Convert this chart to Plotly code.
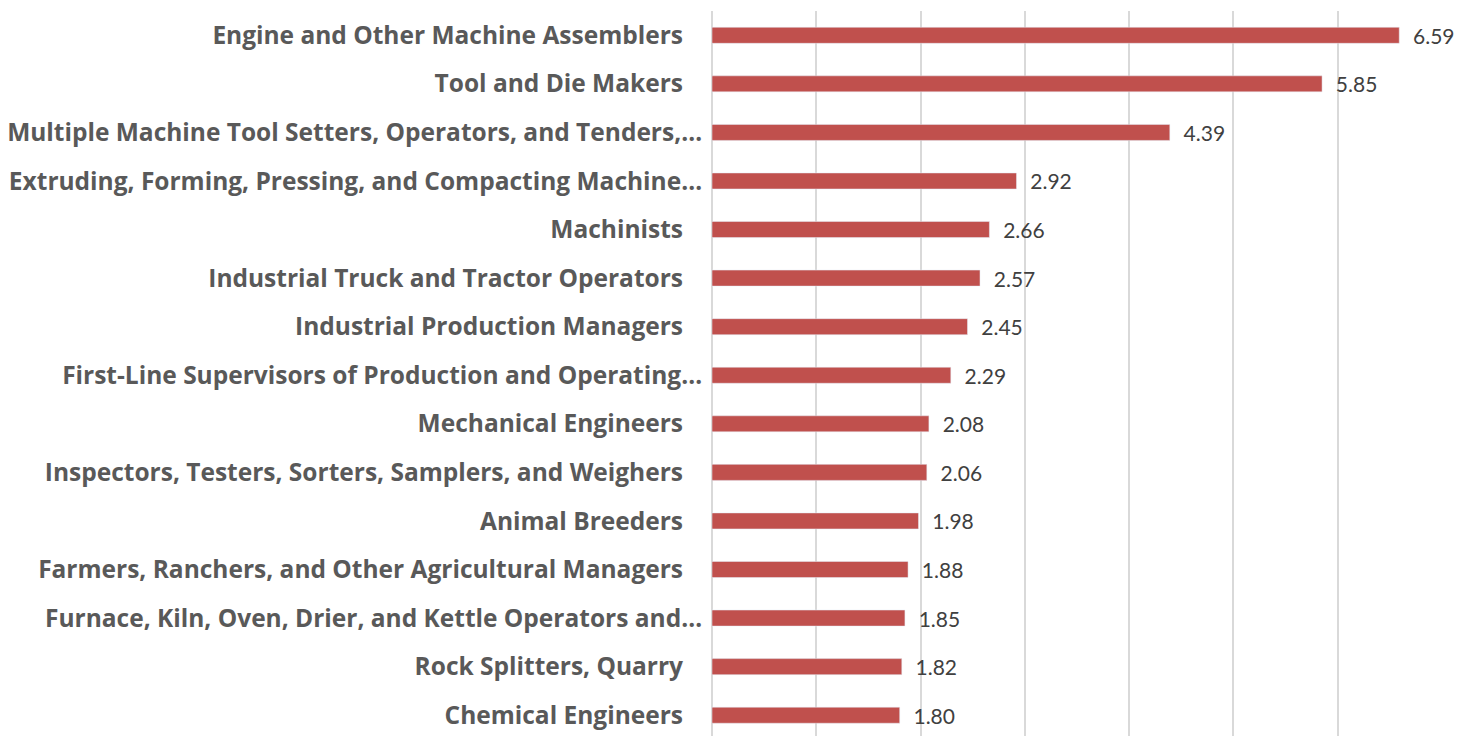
import plotly.graph_objects as go

categories = [
    "Engine and Other Machine Assemblers",
    "Tool and Die Makers",
    "Multiple Machine Tool Setters, Operators, and Tenders,…",
    "Extruding, Forming, Pressing, and Compacting Machine…",
    "Machinists",
    "Industrial Truck and Tractor Operators",
    "Industrial Production Managers",
    "First-Line Supervisors of Production and Operating…",
    "Mechanical Engineers",
    "Inspectors, Testers, Sorters, Samplers, and Weighers",
    "Animal Breeders",
    "Farmers, Ranchers, and Other Agricultural Managers",
    "Furnace, Kiln, Oven, Drier, and Kettle Operators and…",
    "Rock Splitters, Quarry",
    "Chemical Engineers",
]
values = [6.59, 5.85, 4.39, 2.92, 2.66, 2.57, 2.45, 2.29, 2.08, 2.06, 1.98, 1.88, 1.85, 1.82, 1.80]

# truncated labels sit closer to the axis; others get padding
ticktext = [c if c.endswith("…") else c + "\u00a0\u00a0\u00a0" for c in categories]

fig = go.Figure(go.Bar(
    x=values,
    y=categories,
    orientation="h",
    marker=dict(color="#C0504D"),
    text=values,
    texttemplate="\u00a0\u00a0%{x:.2f}",
    textposition="outside",
    textfont=dict(family="Lato", size=21, color="#404040"),
    constraintext="none",
    cliponaxis=False,
))

fig.update_layout(
    width=1474, height=736,
    margin=dict(l=704, r=40, t=3, b=5),
    plot_bgcolor="white", paper_bgcolor="white",
    bargap=0.67,
    showlegend=False,
    xaxis=dict(
        range=[0, 7], dtick=1, showgrid=True, gridcolor="#D9D9D9", gridwidth=1.5,
        showticklabels=False, zeroline=True, zerolinecolor="#D9D9D9", zerolinewidth=1.5,
    ),
    yaxis=dict(
        type="category",
        categoryorder="array", categoryarray=categories,
        tickmode="array", tickvals=categories, ticktext=ticktext,
        range=[14.49, -0.5],
        tickfont=dict(family="Open Sans", size=24.5, color="#595959", weight="bold"),
        ticks="outside", ticklen=4, tickcolor="white",
        showgrid=False, automargin=False,
    ),
)

fig.write_html("out.html")
